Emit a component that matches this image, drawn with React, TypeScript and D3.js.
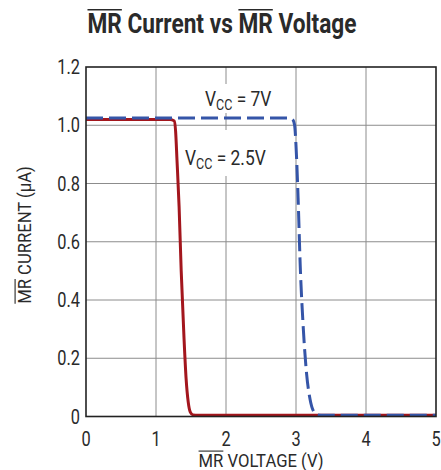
import { useEffect, useRef } from 'react';
import * as d3 from 'd3';

const xTicks = [0, 1, 2, 3, 4, 5];
const yTicks = [0, 0.2, 0.4, 0.6, 0.8, 1.0, 1.2];

const lowVolts = [0, 0.6, 1.2, 1.26, 1.28, 1.3, 1.33, 1.36, 1.4, 1.43, 1.46, 1.49, 1.53, 1.6, 2.5, 3.5, 5];
const lowAmps = [1.02, 1.02, 1.02, 1.015, 0.98, 0.88, 0.72, 0.5, 0.27, 0.13, 0.05, 0.015, 0.005, 0.004, 0.004, 0.004, 0.004];

const highVolts = [0, 1, 2, 2.9, 2.95, 2.98, 3.0, 3.03, 3.06, 3.1, 3.15, 3.2, 3.25, 3.3, 3.4, 4, 5];
const highAmps = [1.025, 1.025, 1.025, 1.025, 1.02, 1.0, 0.93, 0.75, 0.52, 0.32, 0.15, 0.06, 0.018, 0.006, 0.004, 0.004, 0.004];

const FONT = 'Roboto, "Liberation Sans", sans-serif';
const INK = '#2a2a2a';

type Sel = d3.Selection<SVGGElement, unknown, null, undefined>;

// horizontally squeezed text to look like a condensed face; overlines = [start, count]
function condText(
  parent: Sel,
  x: number,
  y: number,
  parts: { t: string; sub?: boolean }[],
  size: number,
  opts: { weight?: string; anchor?: string; sx?: number; rotate?: number; overlines?: [number, number][] } = {},
) {
  const sx = opts.sx ?? 0.8;
  const g = parent
    .append('g')
    .attr('transform', `translate(${x},${y}) rotate(${opts.rotate ?? 0}) scale(${sx},1)`);
  const text = g
    .append('text')
    .attr('font-family', FONT)
    .attr('font-size', size)
    .attr('font-weight', opts.weight ?? 'normal')
    .attr('fill', INK)
    .attr('text-anchor', opts.anchor ?? 'start');
  let subOn = false;
  parts.forEach((p) => {
    const ts = text.append('tspan').text(p.t);
    if (p.sub) ts.attr('font-size', size * 0.72).attr('dy', size * 0.22);
    else if (subOn) ts.attr('dy', -size * 0.22);
    subOn = !!p.sub;
  });
  const node = text.node()!;
  (opts.overlines ?? []).forEach(([s, n]) => {
    const a = node.getStartPositionOfChar(s).x;
    const b = node.getEndPositionOfChar(s + n - 1).x;
    g.append('line')
      .attr('x1', a)
      .attr('x2', b)
      .attr('y1', -size * 0.86)
      .attr('y2', -size * 0.86)
      .attr('stroke', INK)
      .attr('stroke-width', size * 0.06);
  });
  return g;
}

export default function App() {
  const svgRef = useRef<SVGSVGElement>(null);

  useEffect(() => {
    document.body.style.margin = '0';
    document.body.style.overflow = 'hidden';
    const svg = d3.select(svgRef.current);
    if (!svg.node()) return;
    svg.selectAll('*').remove();

    const width = 441;
    const height = 470;
    const margin = { top: 67, right: 5, bottom: 53.5, left: 86 };

    const x = d3.scaleLinear().domain([0, 5]).range([margin.left, width - margin.right]);
    const y = d3.scaleLinear().domain([0, 1.2]).range([height - margin.bottom, margin.top]);

    const root = svg.append('g') as unknown as Sel;

    // grid
    root
      .append('g')
      .selectAll('line')
      .data(xTicks.slice(1, -1))
      .join('line')
      .attr('x1', (d) => x(d))
      .attr('x2', (d) => x(d))
      .attr('y1', y(0))
      .attr('y2', y(1.2))
      .attr('stroke', '#8c8c8c')
      .attr('stroke-width', 1);
    root
      .append('g')
      .selectAll('line')
      .data(yTicks.slice(1, -1))
      .join('line')
      .attr('x1', x(0))
      .attr('x2', x(5))
      .attr('y1', (d) => y(d))
      .attr('y2', (d) => y(d))
      .attr('stroke', '#8c8c8c')
      .attr('stroke-width', 1);

    // label backgrounds
    root.append('rect').attr('x', 200).attr('y', 84).attr('width', 80).attr('height', 29).attr('fill', '#fff');
    root.append('rect').attr('x', 181).attr('y', 130).attr('width', 90).attr('height', 46).attr('fill', '#fff');

    const line = d3
      .line<[number, number]>()
      .x((d) => x(d[0]))
      .y((d) => y(d[1]))
      .curve(d3.curveMonotoneX);

    root
      .append('path')
      .attr('d', line(lowVolts.map((v, i) => [v, lowAmps[i]] as [number, number])))
      .attr('fill', 'none')
      .attr('stroke', '#a3161d')
      .attr('stroke-width', 3);

    root
      .append('path')
      .attr('d', line(highVolts.map((v, i) => [v, highAmps[i]] as [number, number])))
      .attr('fill', 'none')
      .attr('stroke', '#3555a8')
      .attr('stroke-width', 3)
      .attr('stroke-dasharray', '17 6');

    // frame
    root
      .append('rect')
      .attr('x', x(0))
      .attr('y', y(1.2))
      .attr('width', x(5) - x(0))
      .attr('height', y(0) - y(1.2))
      .attr('fill', 'none')
      .attr('stroke', '#222')
      .attr('stroke-width', 1.6);

    // ticks
    yTicks.forEach((t) => {
      condText(root, x(0) - 6, y(t) + 7, [{ t: t === 0 ? '0' : t.toFixed(1) }], 19.5, { anchor: 'end', sx: 0.84 });
    });
    xTicks.forEach((t) => {
      condText(root, x(t), y(0) + 29, [{ t: String(t) }], 19.5, { anchor: 'middle', sx: 0.84 });
    });

    // series labels
    condText(root, 205, 106, [{ t: 'V' }, { t: 'CC', sub: true }, { t: ' = 7V' }], 20, { sx: 0.87 });
    condText(root, 185, 165, [{ t: 'V' }, { t: 'CC', sub: true }, { t: ' = 2.5V' }], 20, { sx: 0.87 });

    // axis titles
    condText(root, 261, 467, [{ t: 'MR VOLTAGE (V)' }], 18.5, { anchor: 'middle', sx: 0.9, overlines: [[0, 2]] });
    condText(root, 31, 235, [{ t: 'MR CURRENT (μA)' }], 18.5, {
      anchor: 'middle',
      sx: 0.9,
      rotate: -90,
      overlines: [[0, 2]],
    });

    // title
    condText(root, 222, 33, [{ t: 'MR Current vs MR Voltage' }], 27, {
      anchor: 'middle',
      weight: 'bold',
      sx: 0.84,
      overlines: [
        [0, 2],
        [14, 2],
      ],
    });
  }, []);

  return (
    <div style={{ position: 'fixed', left: 0, top: 0, width: 441, height: 470 }}>
      <svg ref={svgRef} width={441} height={470} style={{ display: 'block', background: '#fff' }} />
    </div>
  );
}
